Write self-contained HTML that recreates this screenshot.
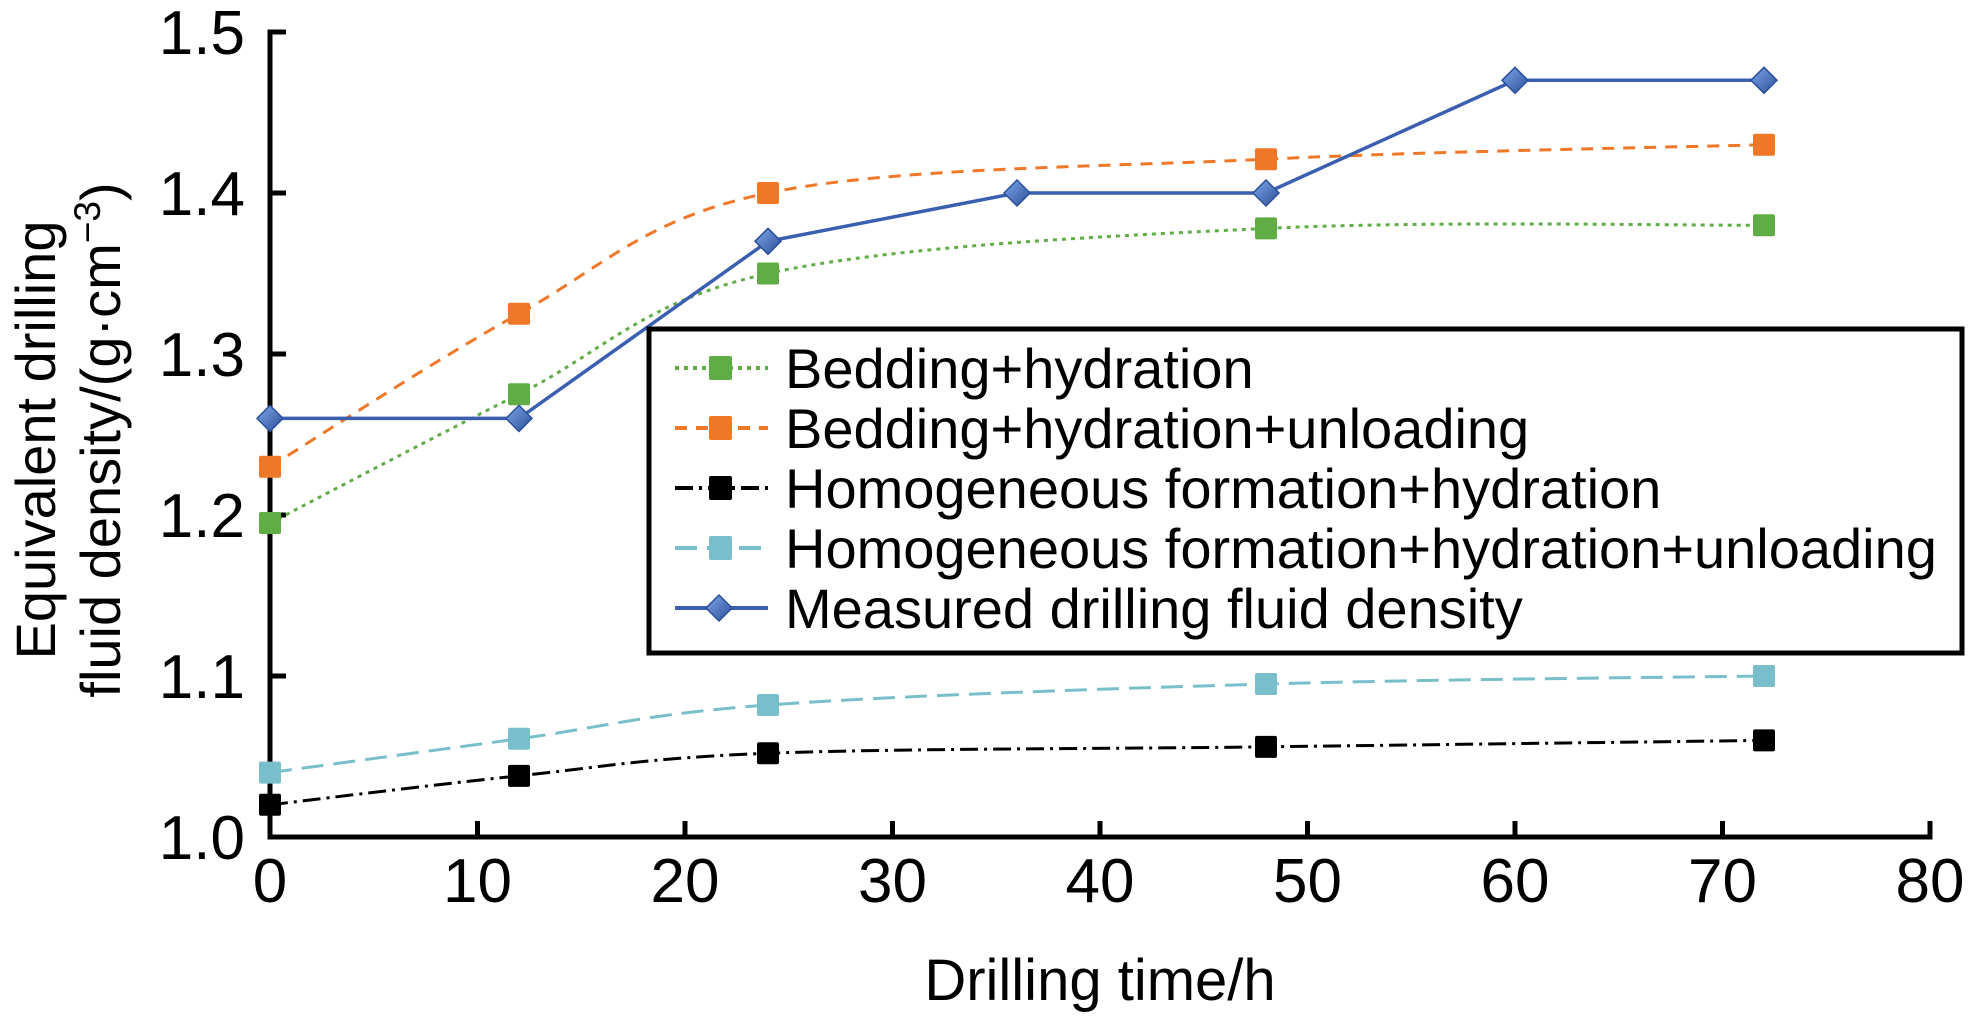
<!DOCTYPE html>
<html><head><meta charset="utf-8"><style>
html,body{margin:0;padding:0;background:#fff;}
svg{display:block;font-family:"Liberation Sans",Arial,sans-serif;}
</style></head><body>
<svg id="s" width="1973" height="1016" viewBox="0 0 1973 1016" xmlns="http://www.w3.org/2000/svg">
<defs>
<linearGradient id="dg" x1="0" y1="0" x2="1" y2="1"><stop offset="0" stop-color="#7fa6e8"/><stop offset="1" stop-color="#2a4f9a"/></linearGradient>
</defs>
<g id="axes" stroke="#000" stroke-width="5" fill="none">
<path d="M283 32 H270 V837 H1930 V822"/>
</g>
<g id="ticks" stroke="#000" stroke-width="5"></g>
<g id="labels" font-size="62" fill="#000"></g>
<g id="series"></g>
<text x="1100" y="1000" font-size="58" text-anchor="middle">Drilling time/h</text>
<text transform="translate(55,440) rotate(-90)" font-size="56" text-anchor="middle">Equivalent drilling</text>
<text transform="translate(120,440) rotate(-90)" font-size="56" text-anchor="middle">fluid density/(g·cm<tspan font-size="37" dy="-20">−3</tspan><tspan dy="20">)</tspan></text>
<rect x="649" y="329" width="1313" height="324" fill="#fff" stroke="#000" stroke-width="5"/>
<g id="legend" font-size="56"></g>
</svg>
<script>
const NS="http://www.w3.org/2000/svg";
function X(t){return 270+20.75*t;}function Y(v){return 837-1610*(v-1);}
function el(p,tag,a,txt){const e=document.createElementNS(NS,tag);for(const k in a)e.setAttribute(k,a[k]);if(txt!==undefined)e.textContent=txt;document.getElementById(p).appendChild(e);return e;}
for(let i=0;i<=5;i++){const y=Y(1+i*0.1);el('ticks','line',{x1:270,x2:286,y1:y,y2:y});el('labels','text',{x:245,y:y+22,'text-anchor':'end'},(1+i*0.1).toFixed(1));}
for(let i=0;i<=8;i++){const x=X(i*10);el('ticks','line',{x1:x,x2:x,y1:837,y2:821});el('labels','text',{x:x,y:902,'text-anchor':'middle'},i*10);}
function smooth(pts){let d="M"+pts[0].join(" ");for(let i=0;i<pts.length-1;i++){const p0=pts[i-1]||pts[i],p1=pts[i],p2=pts[i+1],p3=pts[i+2]||p2;const c1=[p1[0]+(p2[0]-p0[0])/6,p1[1]+(p2[1]-p0[1])/6],c2=[p2[0]-(p3[0]-p1[0])/6,p2[1]-(p3[1]-p1[1])/6];d+=" C"+c1.join(" ")+" "+c2.join(" ")+" "+p2.join(" ");}return d;}
const T=[0,12,24,48,72];
const S=[
{c:"#60ad46",da:"4 5",v:[1.195,1.275,1.35,1.378,1.38]},
{c:"#ee7728",da:"12 9",v:[1.23,1.325,1.40,1.421,1.43]},
{c:"#000",da:"18 6 3 6",v:[1.02,1.038,1.052,1.056,1.06]},
{c:"#79bfcb",da:"22 10",v:[1.04,1.061,1.082,1.095,1.1]}];
S.forEach(s=>{const p=T.map((t,i)=>[X(t),Y(s.v[i])]);el('series','path',{d:smooth(p),fill:"none",stroke:s.c,"stroke-width":3,"stroke-dasharray":s.da});p.forEach(q=>el('series','rect',{x:q[0]-11,y:q[1]-11,width:22,height:22,rx:2,fill:s.c}));});
const BT=[0,12,24,36,48,60,72],BV=[1.26,1.26,1.37,1.40,1.40,1.47,1.47];
const bp=BT.map((t,i)=>[X(t),Y(BV[i])]);
el('series','polyline',{points:bp.map(q=>q.join(",")).join(" "),fill:"none",stroke:"#3a5fb0","stroke-width":3.5});
function diamond(g,x,y){el(g,'path',{d:`M${x} ${y-13} L${x+13} ${y} L${x} ${y+13} L${x-13} ${y} Z`,fill:"url(#dg)",stroke:"#2a4f9a","stroke-width":1.5});}
bp.forEach(q=>diamond('series',q[0],q[1]));
const L=["Bedding+hydration","Bedding+hydration+unloading","Homogeneous formation+hydration","Homogeneous formation+hydration+unloading","Measured drilling fluid density"];
L.forEach((t,i)=>{const y=368+i*60;
 if(i<4){const s=S[i];el('legend','line',{x1:675,x2:768,y1:y,y2:y,stroke:s.c,"stroke-width":4,"stroke-dasharray":s.da});el('legend','rect',{x:709,y:y-12,width:23,height:24,rx:2,fill:s.c});}
 else{el('legend','line',{x1:675,x2:768,y1:y,y2:y,stroke:"#3a5fb0","stroke-width":4});diamond('legend',719,y);}
 el('legend','text',{x:785,y:y+20,fill:"#000"},t);});
</script>
</body></html>
